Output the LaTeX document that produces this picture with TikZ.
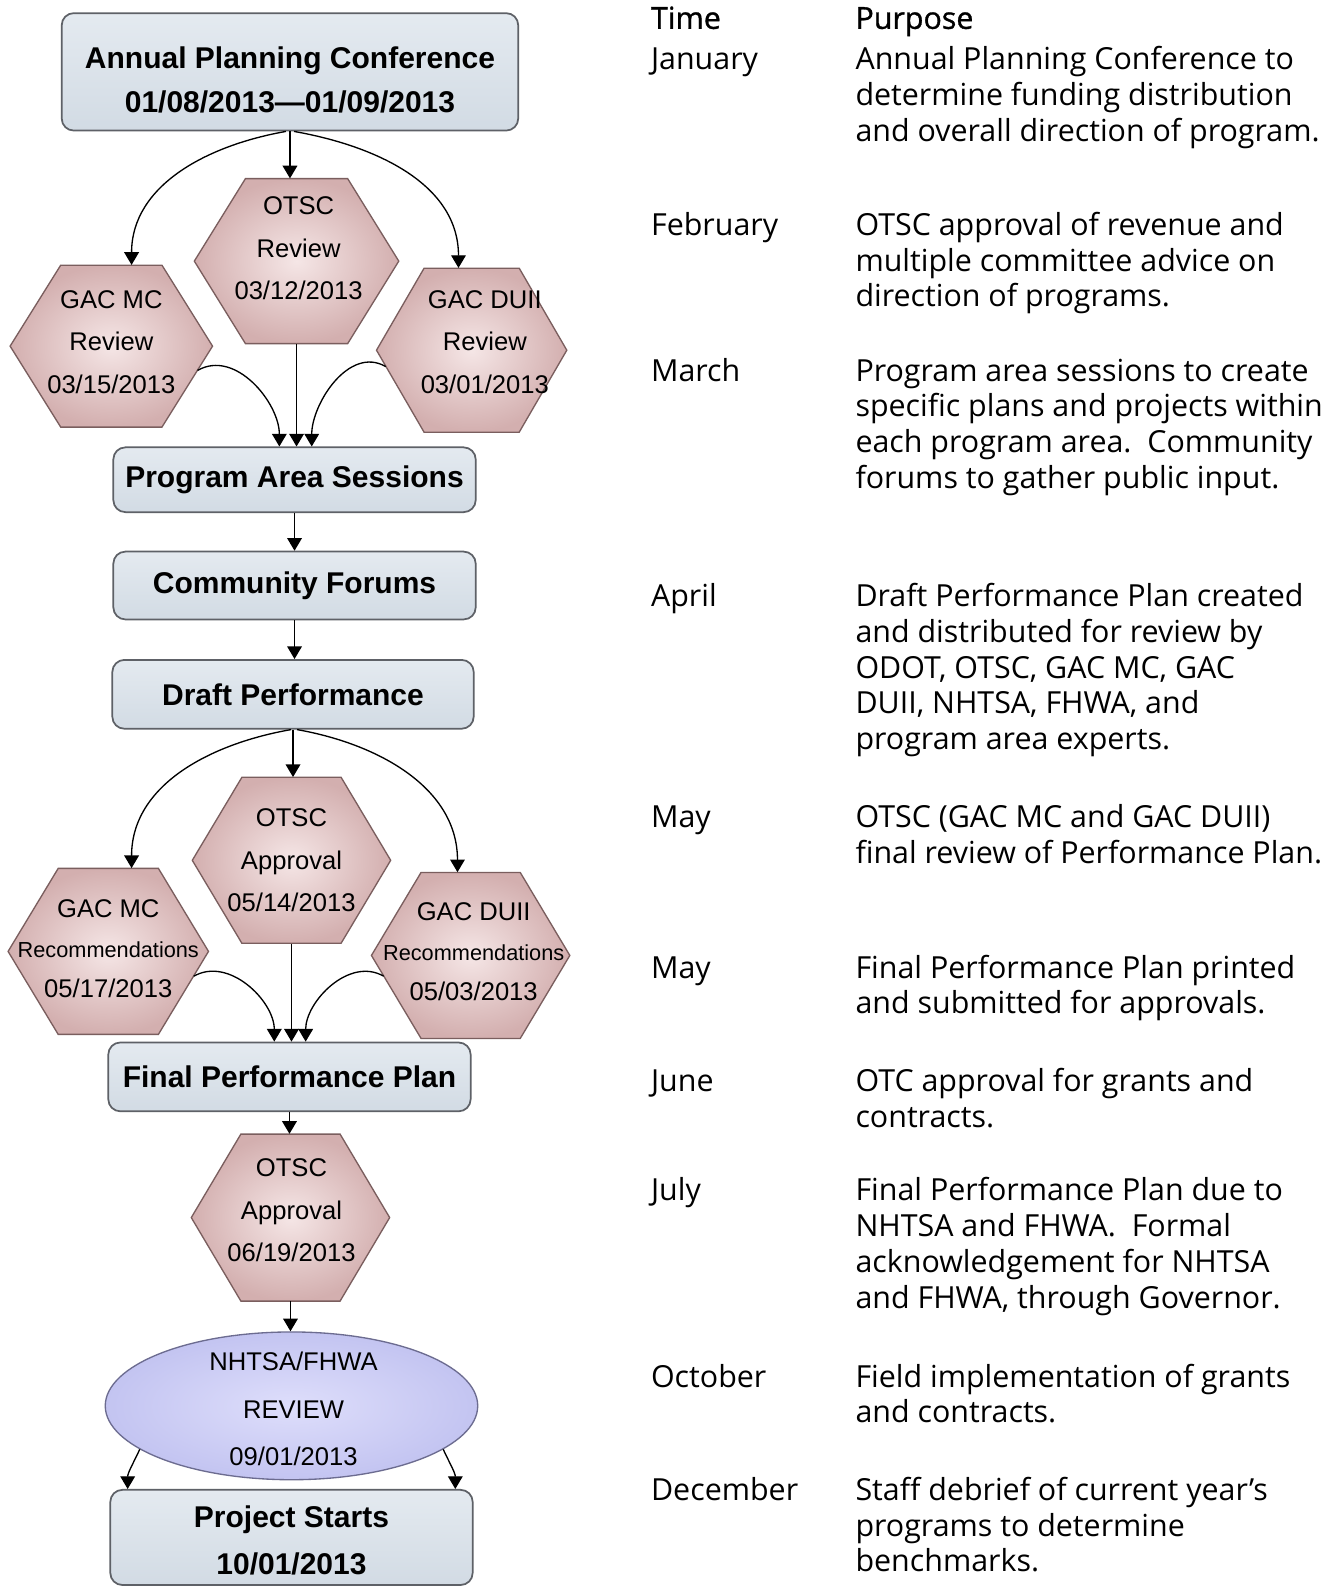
\documentclass[tikz,border=0pt]{standalone}
\usepackage{fontspec}
\setmainfont{Liberation Sans}
\newfontfamily\rfont{Open Sans}
\newfontfamily\rhfont[FakeBold=1]{Open Sans}
\usetikzlibrary{arrows.meta,shapes.geometric,calc}
\definecolor{boxtop}{HTML}{E4EAF0}
\definecolor{boxbot}{HTML}{D2DBE4}
\definecolor{boxline}{HTML}{5E6167}
\definecolor{hexin}{HTML}{F5E6E6}
\definecolor{hexout}{HTML}{D3AFAF}
\definecolor{hexline}{HTML}{7A5E5E}
\definecolor{ellin}{HTML}{DEDEFB}
\definecolor{ellout}{HTML}{C3C4F1}
\definecolor{ellline}{HTML}{6C6C90}
\def\pxu{0.75913pt}
% #1 name, #2 cx, #3 cy (downwards), #4 width, #5 height
\newcommand{\drawhex}[5]{%
  \path[hexpath] ({#2-#4/2},{-#3}) -- ({#2-#4/4},{-#3+#5/2}) -- ({#2+#4/4},{-#3+#5/2})
     -- ({#2+#4/2},{-#3}) -- ({#2+#4/4},{-#3-#5/2}) -- ({#2-#4/4},{-#3-#5/2}) -- cycle;
  \coordinate (#1-br) at ({#2+#4/4},{-#3-#5/2});
  \coordinate (#1-bl) at ({#2-#4/4},{-#3-#5/2});
  \node[hexframe, minimum width={#4*\pxu}, minimum height={#5*\pxu}] (#1) at (#2,{-#3}) {};
}
\tikzset{
  box/.style={draw=boxline, line width=1.3pt, rounded corners=9pt, top color=boxtop,
    bottom color=boxbot, align=center, inner sep=0pt,
    font=\bfseries\fontsize{22.5}{33.5}\selectfont},
  hexpath/.style={draw=hexline, line width=1pt, inner color=hexin, outer color=hexout},
  hexframe/.style={inner sep=0pt, draw=none},
  hextext/.style={align=center, inner sep=0pt, font=\fontsize{19.2}{31.8}\selectfont},
  rectext/.style={align=center, inner sep=0pt, font=\fontsize{19.2}{30}\selectfont},
  elli/.style={ellipse, draw=ellline, line width=1pt, inner color=ellin, outer color=ellout, inner sep=0pt},
  arr/.style={-{Triangle[length=9.5pt,width=11pt]}, line width=1pt},
  rtext/.style={anchor=base west, inner sep=0pt, align=left, font=\rfont\fontsize{22.8}{26.8}\selectfont},
  rhead/.style={anchor=base west, inner sep=0pt, font=\rhfont\fontsize{22.8}{26.8}\selectfont},
}
\begin{document}
\begin{tikzpicture}[x=0.75913pt, y=0.75913pt]
\fill[white] (0,0) rectangle (1314,-1568);
\useasboundingbox (0,0) rectangle (1314,-1568);

% ---------- boxes ----------
\node[box, minimum width=451*\pxu, minimum height=116*\pxu, text height=62pt] (APC) at (286.5,-71)
  {Annual Planning Conference\\01/08/2013—01/09/2013};
\node[box, minimum width=358*\pxu, minimum height=64*\pxu] (PAS) at (291,-474) {Program Area Sessions};
\node[box, minimum width=358*\pxu, minimum height=67*\pxu] (CF) at (291,-578.5) {Community Forums};
\node[box, minimum width=357*\pxu, minimum height=68*\pxu] (DP) at (289.5,-686) {Draft Performance};
\node[box, minimum width=358*\pxu, minimum height=68*\pxu] (FPP) at (286,-1064) {Final Performance Plan};
\node[box, minimum width=358*\pxu, minimum height=94*\pxu, text height=56pt,
  font=\bfseries\fontsize{22.5}{35.5}\selectfont] (PS) at (288,-1519) {Project Starts\\10/01/2013};

% ---------- hexagons ----------
\drawhex{OTSCR}{293}{258}{202}{163}
\node[hextext] (OTSCRt) at (295,-245.5) {OTSC\\Review\\03/12/2013};
\drawhex{GMCR}{110}{342}{200}{160}
\node[hextext] (GMCRt) at (110,-338) {GAC MC\\Review\\03/15/2013};
\drawhex{GDUR}{466}{346}{188}{162}
\node[hextext] (GDURt) at (479,-338) {GAC DUII\\Review\\03/01/2013};

\drawhex{OTSCA}{288}{850}{196}{164}
\node[hextext] (OTSCAt) at (288,-850) {OTSC\\Approval\\05/14/2013};
\drawhex{GMCRec}{107}{940}{198}{164}
\node[rectext] (GMCRect) at (107,-937.5) {GAC MC\\{\fontsize{16.3}{20}\selectfont Recommendations}\\05/17/2013};
\drawhex{GDURec}{465}{944}{196}{164}
\node[rectext] (GDURect) at (468,-940.5) {GAC DUII\\{\fontsize{16.3}{20}\selectfont Recommendations}\\05/03/2013};

\drawhex{OTSCA2}{287}{1203}{196}{165}
\node[hextext] (OTSCA2t) at (288,-1196) {OTSC\\Approval\\06/19/2013};

% ---------- ellipse ----------
\node[elli, minimum width=368*\pxu, minimum height=146*\pxu] (NH) at (288,-1389) {};
\node[align=center, inner sep=0pt, font=\fontsize{19.2}{35.7}\selectfont] (NHt) at (290,-1392)
  {NHTSA/FHWA\\REVIEW\\09/01/2013};

% ---------- connectors ----------
\draw[arr] (APC.south) -- (APC.south |- OTSCR.north);
\draw[arr] ($(APC.south)+(-4,0)$) to[out=190,in=90] ($(GMCR.north)+(20,0)$);
\draw[arr] ($(APC.south)+(4,0)$) to[out=-10,in=90] ($(GDUR.north)+(-13,0)$);

\draw[arr] ($(GMCR.east)!0.3!(GMCR-br)$) to[out=30,in=90] ($(PAS.north)+(-15,0)$);
\draw[arr] (OTSCR.south) -- (OTSCR.south |- PAS.north);
\draw[arr] ($(GDUR.west)!0.2!(GDUR-bl)$) to[out=150,in=90] ($(PAS.north)+(17,0)$);

\draw[arr] (PAS.south) -- (CF.north);
\draw[arr] (CF.south) -- (CF.south |- DP.north);

\draw[arr] (DP.south) -- (DP.south |- OTSCA.north);
\draw[arr] ($(DP.south)+(-2,0)$) to[out=190,in=90] ($(GMCRec.north)+(23,0)$);
\draw[arr] ($(DP.south)+(4,0)$) to[out=-10,in=90] ($(GDURec.north)+(-13,0)$);

\draw[arr] ($(GMCRec.east)!0.3!(GMCRec-br)$) to[out=30,in=90] ($(FPP.north)+(-15,0)$);
\draw[arr] (OTSCA.south) -- (OTSCA.south |- FPP.north);
\draw[arr] ($(GDURec.west)!0.25!(GDURec-bl)$) to[out=150,in=90] ($(FPP.north)+(16,0)$);

\draw[arr] (FPP.south) -- (FPP.south |- OTSCA2.north);
\draw[arr] (OTSCA2.south) -- (OTSCA2.south |- NH.north);

\draw[arr] (NH.196) to[out=245,in=90] ($(PS.north west)+(18,0)$);
\draw[arr] (NH.-16) to[out=-65,in=90] ($(PS.north east)+(-18,0)$);

% ---------- right column (multi-line nodes: base = last line) ----------
\node[rhead] (hTime) at (643,-28.5) {Time};
\node[rhead] (hPurp) at (845,-28.5) {Purpose};

\node[rtext] (tJan) at (643,-69) {January};
\node[rtext] (pJan) at (845,-139.6) {Annual Planning Conference to\\determine funding distribution\\and overall direction of program.};

\node[rtext] (tFeb) at (643,-232.5) {February};
\node[rtext] (pFeb) at (845,-303.1) {OTSC approval of revenue and\\multiple committee advice on\\direction of programs.};

\node[rtext] (tMar) at (643,-376.5) {March};
\node[rtext] (pMar) at (845,-482.4) {Program area sessions to create\\specific plans and projects within\\each program area.\ \ Community\\forums to gather public input.};

\node[rtext] (tApr) at (643,-599.5) {April};
\node[rtext] (pApr) at (845,-740.7) {Draft Performance Plan created\\and distributed for review by\\ODOT, OTSC, GAC MC, GAC\\DUII, NHTSA, FHWA, and\\program area experts.};

\node[rtext] (tMay) at (643,-817.5) {May};
\node[rtext] (pMay) at (845,-852.8) {OTSC (GAC MC and GAC DUII)\\final review of Performance Plan.};

\node[rtext] (tMayB) at (643,-966.5) {May};
\node[rtext] (pMayB) at (845,-1001.8) {Final Performance Plan printed\\and submitted for approvals.};

\node[rtext] (tJun) at (643,-1078.5) {June};
\node[rtext] (pJun) at (845,-1113.8) {OTC approval for grants and\\contracts.};

\node[rtext] (tJul) at (643,-1186.5) {July};
\node[rtext] (pJul) at (845,-1292.4) {Final Performance Plan due to\\NHTSA and FHWA.\ \ Formal\\acknowledgement for NHTSA\\and FHWA, through Governor.};

\node[rtext] (tOct) at (643,-1370.5) {October};
\node[rtext] (pOct) at (845,-1405.8) {Field implementation of grants\\and contracts.};

\node[rtext] (tDec) at (643,-1482.5) {December};
\node[rtext] (pDec) at (845,-1553.1) {Staff debrief of current year’s\\programs to determine\\benchmarks.};
\end{tikzpicture}
\end{document}
